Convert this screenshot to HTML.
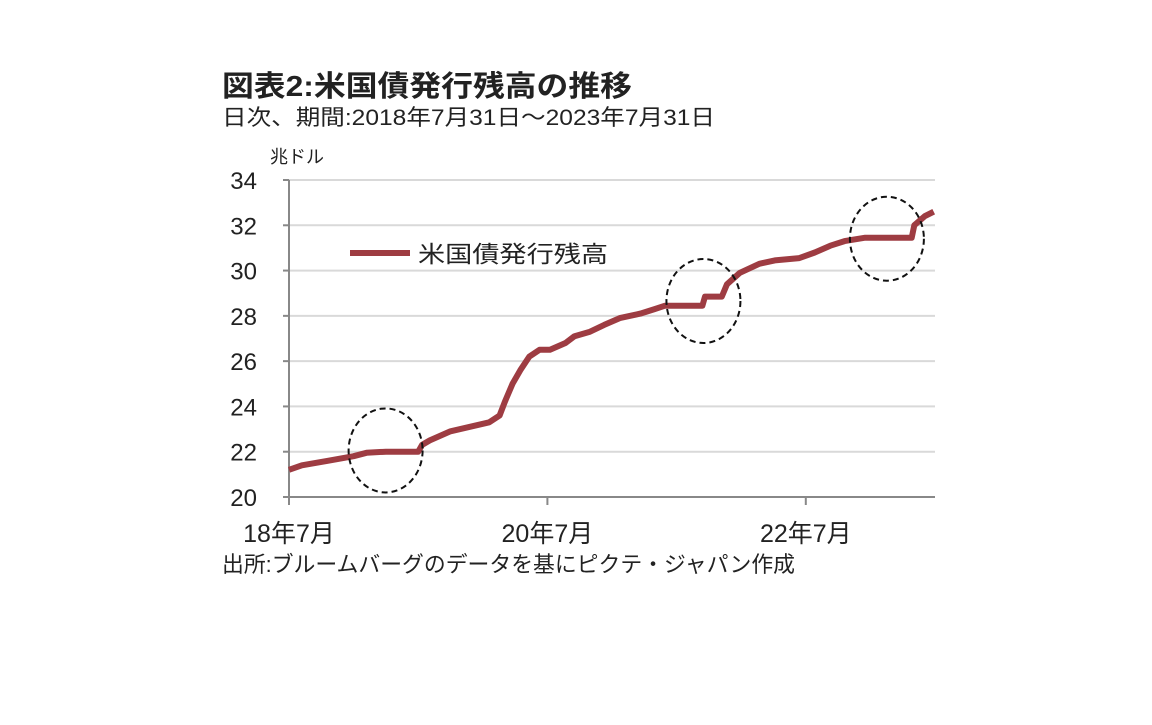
<!DOCTYPE html>
<html><head><meta charset="utf-8"><style>
body{margin:0;background:#fff;}
svg text{font-family:"Liberation Sans","Noto Sans CJK JP",sans-serif;fill:#222;}
</style></head><body>
<svg width="1152" height="720" viewBox="0 0 1152 720">
<text x="222" y="96" font-size="29" font-weight="bold" textLength="410" lengthAdjust="spacingAndGlyphs">図表2:米国債発行残高の推移</text>
<text x="222" y="125" font-size="22" textLength="493" lengthAdjust="spacingAndGlyphs">日次、期間:2018年7月31日～2023年7月31日</text>
<text x="270" y="163" font-size="18">兆ドル</text>
<g id="grid"></g>
<g id="axes"></g>
<path id="line" fill="none" stroke="#9e3c42" stroke-width="6" stroke-linejoin="round"/>
<g id="circles"></g>
<line x1="350" y1="253" x2="410" y2="253" stroke="#9e3c42" stroke-width="6"/>
<text x="418" y="262" font-size="23" textLength="190" lengthAdjust="spacingAndGlyphs">米国債発行残高</text>
<text x="222" y="572" font-size="22" textLength="573" lengthAdjust="spacingAndGlyphs">出所:ブルームバーグのデータを基にピクテ・ジャパン作成</text>
</svg>
<script>
const yTicks=[20,22,24,26,28,30,32,34];
const xTickYears=[0,2,4];
const xTickLabels=["18年7月","20年7月","22年7月"];
const tYears=[0,0.1,0.3,0.5,0.6,0.75,1.0,1.03,1.09,1.25,1.4,1.55,1.63,1.67,1.73,1.79,1.86,1.94,2.02,2.14,2.21,2.33,2.44,2.56,2.72,2.83,2.91,3.2,3.22,3.35,3.39,3.49,3.64,3.76,3.95,4.07,4.19,4.3,4.46,4.82,4.84,4.92,4.99];
const debt=[21.2,21.4,21.6,21.8,21.95,22.0,22.0,22.3,22.5,22.9,23.1,23.3,23.6,24.2,25.0,25.6,26.2,26.5,26.5,26.8,27.1,27.3,27.6,27.9,28.1,28.3,28.45,28.45,28.85,28.85,29.4,29.9,30.3,30.45,30.55,30.8,31.1,31.3,31.45,31.45,32.0,32.4,32.6];
const highlightT=[0.74,3.2,4.62];
const highlightV=[22.1,28.7,31.45];
const X0=289,X1=935,Y0=497,Y1=180;
const x=t=>X0+t/5*(X1-X0);
const y=v=>Y0-(v-20)/14*(Y0-Y1);
const NS="http://www.w3.org/2000/svg";
const g=document.getElementById('grid'),ax=document.getElementById('axes'),cg=document.getElementById('circles');
function mk(tag,a,p){const e=document.createElementNS(NS,tag);for(const k in a)e.setAttribute(k,a[k]);p.appendChild(e);return e;}
yTicks.forEach(v=>{
 if(v>20){const l=mk('line',{x1:X0,x2:X1,y1:y(v),y2:y(v),stroke:'#d9d9d9','stroke-width':2},g);
 
 }
 const tk=mk('line',{x1:X0-6,x2:X0,y1:y(v),y2:y(v),stroke:'#888','stroke-width':2},ax);
 
 
 const t=mk('text',{x:257,y:y(v)+9,'font-size':24,'text-anchor':'end'},ax);t.textContent=v;
 
 
});
const ya=mk('line',{x1:X0,x2:X0,y1:Y1,y2:Y0,stroke:'#888','stroke-width':2},ax);


const xa=mk('line',{x1:X0,x2:X1,y1:Y0,y2:Y0,stroke:'#888','stroke-width':2},ax);


xTickYears.forEach((t,i)=>{
 const tk=mk('line',{x1:x(t),x2:x(t),y1:Y0,y2:Y0+8,stroke:'#888','stroke-width':2},ax);
 
 
 const tx=mk('text',{x:x(t),y:542,'font-size':25,'text-anchor':'middle'},ax);tx.textContent=xTickLabels[i];
 
 
});
let d='';tYears.forEach((t,i)=>{d+=(i?'L':'M')+x(t).toFixed(1)+','+y(debt[i]).toFixed(1);});
document.getElementById('line').setAttribute('d',d);
highlightT.forEach((t,i)=>{
 const e=mk('ellipse',{cx:x(t)+1,cy:y(highlightV[i])+1,rx:37,ry:42,fill:'none',stroke:'#111','stroke-width':2,'stroke-dasharray':'6,4'},cg);
 
 
});
</script>
</body></html>
